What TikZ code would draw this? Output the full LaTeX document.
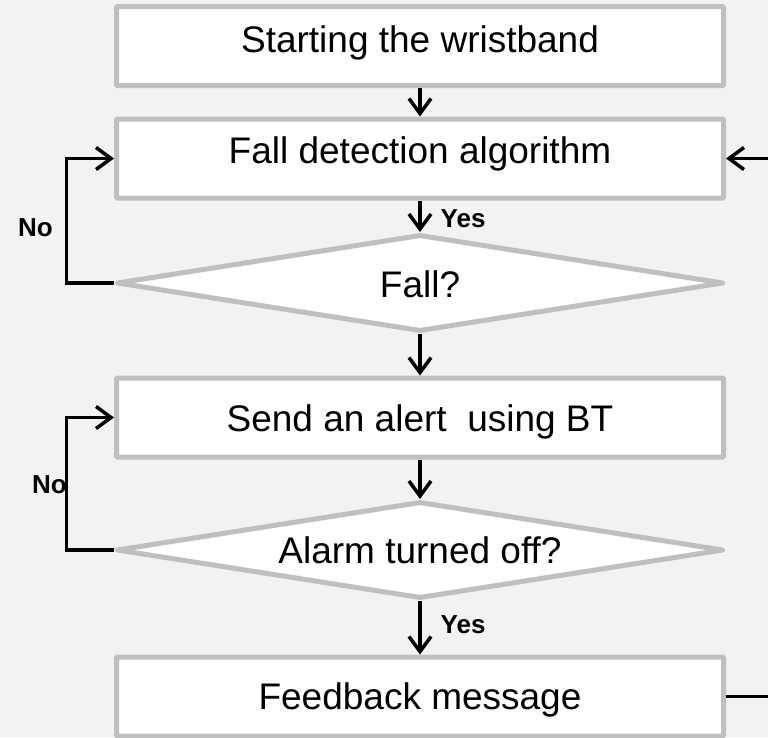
\documentclass[tikz,border=0pt]{standalone}
\usepackage{fontspec}
\setmainfont{Liberation Sans}
\usetikzlibrary{arrows.meta,shapes.geometric}
\definecolor{bgc}{HTML}{F2F2F2}
\definecolor{bordc}{HTML}{BFBFBF}
\tikzset{
  procbox/.style={draw=bordc, fill=white, line width=5pt, rounded corners=1pt,
    minimum width=607pt, minimum height=79pt, inner sep=0pt},
  decbox/.style={draw=bordc, fill=white, line width=5pt, line join=round, shape=diamond,
    minimum width=607pt, minimum height=97pt, inner sep=0pt},
  maintext/.style={anchor=base, inner sep=0pt, font=\fontsize{37}{43}\selectfont},
  lbltext/.style={anchor=base west, inner sep=0pt, font=\bfseries\fontsize{26}{31}\selectfont},
  arr/.style={draw=black, line width=3.5pt, -{Straight Barb[length=15pt,width=22pt]}},
  conn/.style={draw=black, line width=3.5pt}
}
\begin{document}
\begin{tikzpicture}[x=1pt,y=-1pt]
\fill[bgc] (0,0) rectangle (768,737);
\useasboundingbox (0,0) rectangle (768,737);
\clip (0,0) rectangle (768,737);

\node[procbox] (b1) at (420,46) {};
\node[procbox] (b2) at (420,158.5) {};
\node[decbox]  (d1) at (420,283) {};
\node[procbox] (b3) at (420,417.5) {};
\node[decbox]  (d2) at (420,550) {};
\node[procbox] (b4) at (420,696.5) {};

\node[maintext] (t1) at (420,52) {Starting the wristband};
\node[maintext] (t2) at (420,163.5) {Fall detection algorithm};
\node[maintext] (t3) at (420,297) {Fall?};
\node[maintext] (t4) at (420,431) {Send an alert\ \ using BT};
\node[maintext] (t5) at (420,563) {Alarm turned off?};
\node[maintext] (t6) at (420,709) {Feedback message};

\node[lbltext] (yes1) at (440.5,227.5) {Yes};
\node[lbltext] (yes2) at (440.5,633) {Yes};
\node[lbltext] (no1) at (18,236) {No};
\node[lbltext] (no2) at (32,493) {No};

\draw[arr] (b1.south) -- (b2.north);
\draw[arr] (b2.south) -- (d1.north);
\draw[arr] (d1.south) -- (b3.north);
\draw[arr] (b3.south) -- (d2.north);
\draw[arr] (d2.south) -- (b4.north);

\draw[arr] (d1.west) -- ++(-47.5,0) |- (b2.west);
\draw[arr] (d2.west) -- ++(-47.5,0) |- (b3.west);
\draw[arr] (b4.east) -- ++(70,0) |- (b2.east);
\end{tikzpicture}
\end{document}
